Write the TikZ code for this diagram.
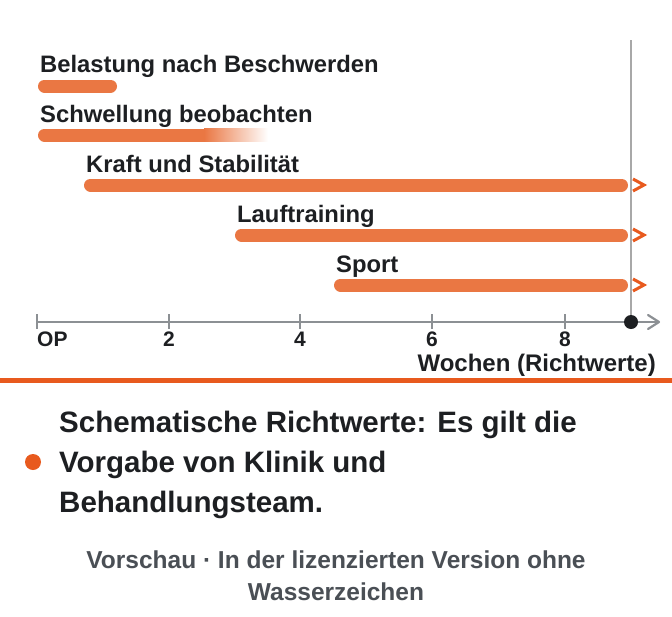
\documentclass[tikz,border=0pt]{standalone}
\usepackage{fontspec}
\setmainfont{Liberation Sans}
\begin{document}
\begin{tikzpicture}[x=1pt,y=-1pt,
  barlabel/.style={anchor=base west,inner sep=0pt,text=txt,font=\fontsize{23.8}{28}\selectfont\bfseries},
  ticklabel/.style={anchor=base,inner sep=0pt,text=txt,font=\fontsize{21}{25}\selectfont\bfseries},
  barline/.style={line width=13pt,line cap=round,draw=barc},
  more/.style={line width=3pt,draw=arrc,line join=miter},
  tickmark/.style={line width=2pt,draw=axisc}]
\definecolor{txt}{HTML}{1D1F22}
\definecolor{barc}{HTML}{EA7743}
\definecolor{arrc}{HTML}{E85A1E}
\definecolor{axisc}{HTML}{8C9094}
\definecolor{vline}{HTML}{A8A8A8}
\definecolor{foot}{HTML}{4A4F55}
\useasboundingbox[fill=white] (0,0) rectangle (672,616);
% vertical end line
\coordinate (vtop) at (631,40);
\coordinate (vbot) at (631,322);
\draw[vline,line width=1.3pt] (vtop) -- (vbot);
% labels
\node[barlabel] (l1) at (40,72) {Belastung nach Beschwerden};
\node[barlabel] (l2) at (40,122) {Schwellung beobachten};
\node[barlabel] (l3) at (86,172) {Kraft und Stabilität};
\node[barlabel] (l4) at (237,222) {Lauftraining};
\node[barlabel] (l5) at (336,272) {Sport};
% bars
\draw[barline] (44.5,86) -- (110.5,86);
\draw[barline] (44.5,135) -- (205,135);
\shade[left color=barc,right color=white] (204,128.5) rectangle (268,141.5);
\draw[barline] (90.5,185) -- (621.5,185);
\draw[barline] (241.5,235) -- (621.5,235);
\draw[barline] (340.5,285) -- (621.5,285);
\foreach \yy in {185,235,285}{
  \draw[more] (633,\yy-6) -- (644,\yy) -- (633,\yy+6);
}
% axis
\coordinate (a0) at (37,322);
\coordinate (a1) at (659,322);
\draw[axisc,line width=2.2pt] (a0) -- (a1);
\draw[axisc,line width=2.2pt,line cap=round,line join=round] (648,315) -- (659,322) -- (648,329);
\foreach \xx in {37,169,300,432,565}{
  \draw[tickmark] (\xx,314) -- (\xx,329);
}
\fill[txt] (631,322) circle (7);
\node[anchor=base west,inner sep=0pt,text=txt,font=\fontsize{21}{25}\selectfont\bfseries] (t0) at (37,346) {OP};
\node[ticklabel] (t2) at (169,346) {2};
\node[ticklabel] (t4) at (300,346) {4};
\node[ticklabel] (t6) at (432,346) {6};
\node[ticklabel] (t8) at (565,346) {8};
\node[anchor=base east,inner sep=0pt,text=txt,font=\fontsize{24}{28}\selectfont\bfseries] (unit) at (656,371) {Wochen (Richtwerte)};
% separator
\coordinate (s0) at (0,380.5);
\coordinate (s1) at (672,380.5);
\draw[arrc,line width=5pt] (s0) -- (s1);
% note
\fill[arrc] (33,462) circle (8);
\node[anchor=base west,inner sep=0pt,text=txt,align=left,font=\fontsize{29.5}{40}\selectfont\bfseries] (note) at (59,512) {Schematische Richtwerte: Es gilt die\\Vorgabe von Klinik und\\Behandlungsteam.};
\node[anchor=base,inner sep=0pt,text=foot,align=center,font=\fontsize{24.5}{32}\selectfont\bfseries] (footer) at (336,600) {Vorschau · In der lizenzierten Version ohne\\Wasserzeichen};
\end{tikzpicture}
\end{document}
